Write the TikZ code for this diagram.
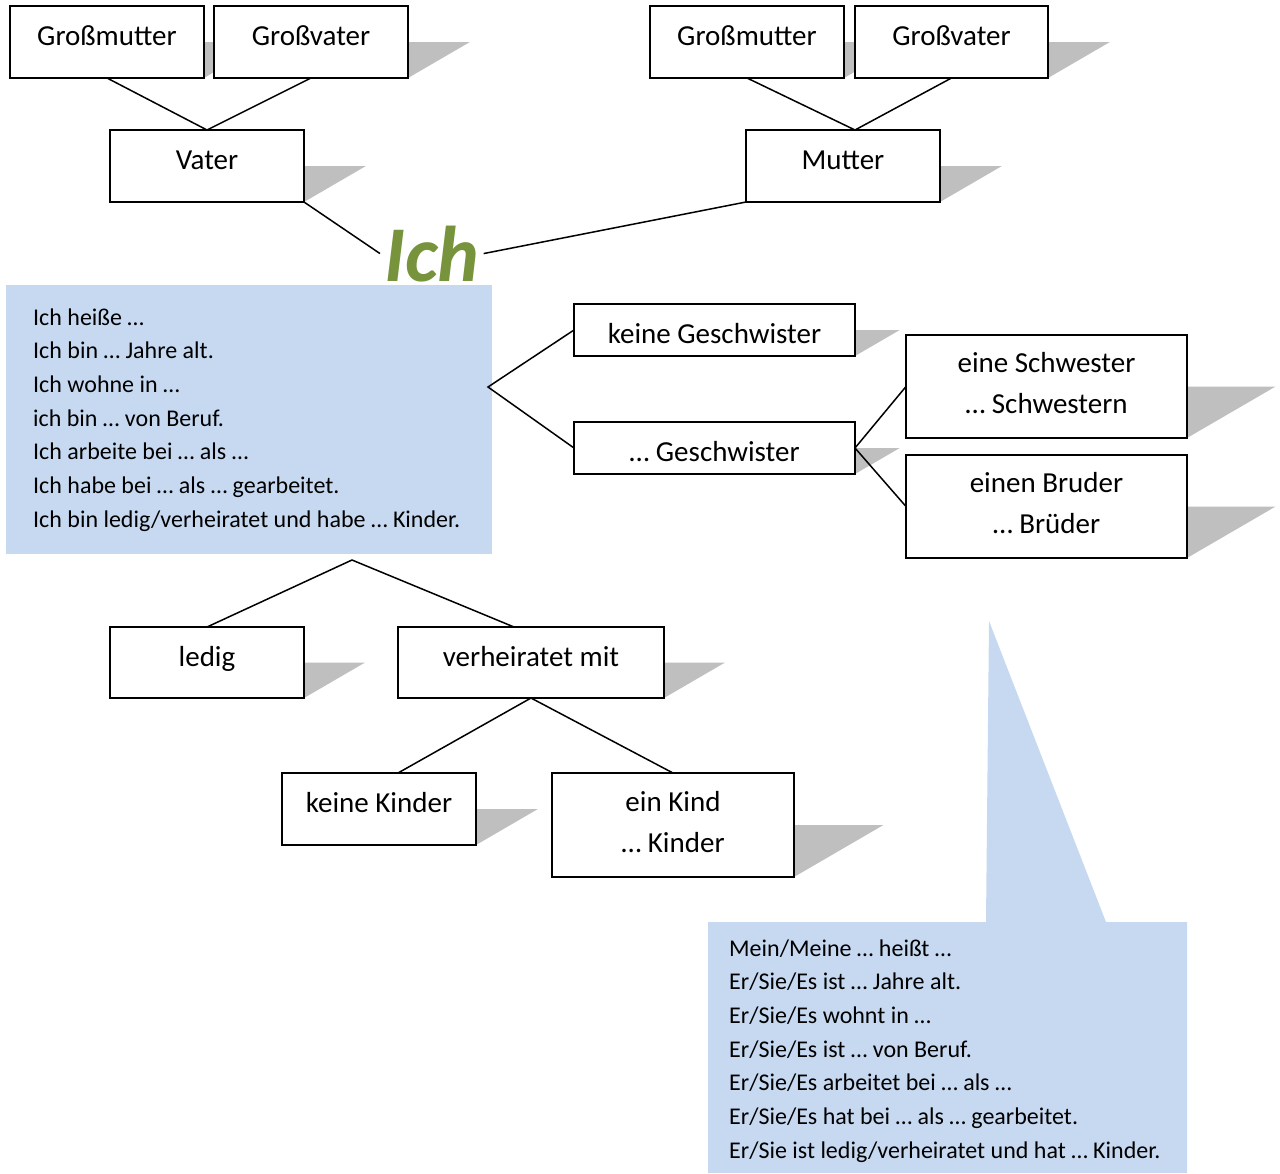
\documentclass[tikz,border=0pt]{standalone}
\usepackage{fontspec}
\setmainfont{Carlito}
\usetikzlibrary{backgrounds,calc}
\definecolor{boxblue}{HTML}{C6D9F1}
\definecolor{shadegray}{HTML}{BFBFBF}
\definecolor{ichgreen}{HTML}{77933C}
\newcommand{\twolines}[2]{\begin{tabular}[t]{@{}c@{}}#1\\#2\end{tabular}}
\newcommand{\listfont}{\fontsize{24}{33.7}\selectfont}
\tikzset{
  box/.style={draw, fill=white, line width=1.5pt, inner sep=0pt, outer sep=0pt,
    anchor=north west, minimum width=194pt, minimum height=72pt,
    text height=39pt, text depth=33pt, font=\fontsize{29}{41}\selectfont},
  link/.style={line width=1.5pt},
  boxshadow/.style={fill=shadegray},
  ich/.style={font=\fontsize{79}{95}\selectfont\bfseries\itshape, text=ichgreen,
    inner sep=4pt, anchor=base west},
  listtext/.style={anchor=base west, inner sep=0pt, font=\listfont}
}
\begin{document}
\begin{tikzpicture}[x=1pt, y=-1pt]
   \useasboundingbox (0,0) rectangle (1280,1173);
   % Vater side
   \node[box] (gm1) at (10,6) {Großmutter};
   \node[box] (gv1) at (214,6) {Großvater};
   \node[box] (vater) at (110,130) {Vater};
   % Mutter side
   \node[box] (gm2) at (650,6) {Großmutter};
   \node[box, minimum width=193pt] (gv2) at (855,6) {Großvater};
   \node[box] (mutter) at (746,130) {Mutter};
   \node[ich] (ich) at (380,281) {Ich};
   % first callout
   \fill[boxblue] (6,285) rectangle (492,554);
   \node[listtext] (ichsaetze) at (33,325) {\begin{tabular}[t]{@{}l@{}}
      Ich heiße …\\
      Ich bin … Jahre alt.\\
      Ich wohne in …\\
      ich bin … von Beruf.\\
      Ich arbeite bei … als …\\
      Ich habe bei … als … gearbeitet.\\
      Ich bin ledig/verheiratet und habe … Kinder.
   \end{tabular}};
   % siblings
   \node[box, minimum width=281pt, minimum height=52pt, text depth=13pt] (kg) at (574,304) {keine Geschwister};
   \node[box, minimum width=281pt, minimum height=52pt, text depth=13pt] (gs) at (574,422) {… Geschwister};
   \node[box, minimum width=281pt, minimum height=103pt, text height=37pt, text depth=66pt] (schw) at (906,335) {\twolines{eine Schwester}{… Schwestern}};
   \node[box, minimum width=281pt, minimum height=103pt, text height=37pt, text depth=66pt] (bru) at (906,455) {\twolines{einen Bruder}{… Brüder}};
   % family status
   \node[box, minimum height=71pt, text depth=32pt] (ledig) at (110,627) {ledig};
   \node[box, minimum width=266pt, minimum height=71pt, text depth=32pt] (verh) at (398,627) {verheiratet mit};
   \node[box] (kk) at (282,773) {keine Kinder};
   \node[box, minimum width=242pt, minimum height=104pt, text height=38pt, text depth=66pt] (kind) at (552,773) {\twolines{ein Kind}{… Kinder}};
   % second callout
   \fill[boxblue] (708,922) -- (986,922) -- (989,621) -- (1106,922) -- (1187,922)
      -- (1187,1173) -- (708,1173) -- cycle;
   \node[listtext] (ersaetze) at (729,956) {\begin{tabular}[t]{@{}l@{}}
      Mein/Meine … heißt …\\
      Er/Sie/Es ist … Jahre alt.\\
      Er/Sie/Es wohnt in …\\
      Er/Sie/Es ist … von Beruf.\\
      Er/Sie/Es arbeitet bei … als …\\
      Er/Sie/Es hat bei … als … gearbeitet.\\
      Er/Sie ist ledig/verheiratet und hat … Kinder.
   \end{tabular}};
   % shadows
   \begin{scope}[on background layer]
      \foreach \b in {gm1, gv1, vater, gm2, gv2, mutter, kg, gs, schw, bru, ledig, verh, kk, kind} {
         \fill[boxshadow] let \p1 = (\b.north east), \p2 = (\b.south east) in
            (\b.east) -- ++({0.86*(\y1-\y2)},0) -- (\b.south east) -- cycle;
      }
   \end{scope}
   % connectors
   \coordinate (f1) at (488,387);
   \coordinate (f2) at (352,560);
   \draw[link] (gm1.south) -- (vater.north) -- (gv1.south);
   \draw[link] (gm2.south) -- ([xshift=12pt]mutter.north) -- (gv2.south);
   \draw[link] (vater.south east) -- (ich.west);
   \draw[link] (mutter.south west) -- (ich.east);
   \draw[link] (kg.west) -- (f1) -- (gs.west);
   \draw[link] (schw.west) -- (gs.east) -- (bru.west);
   \draw[link] (ledig.north) -- (f2) -- ([xshift=-17pt]verh.north);
   \draw[link] ([xshift=19pt]kk.north) -- (verh.south) -- (kind.north);
\end{tikzpicture}
\end{document}
